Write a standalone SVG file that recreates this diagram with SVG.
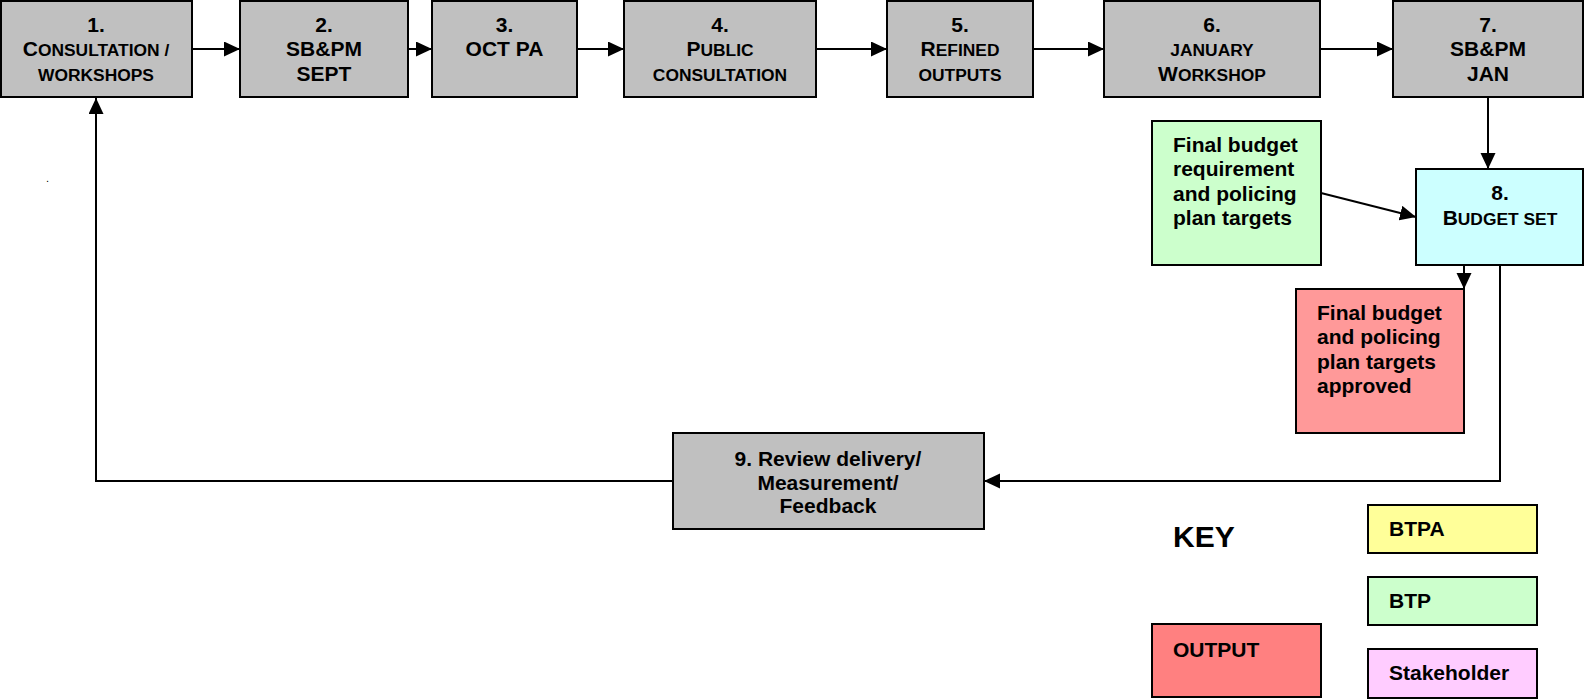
<svg xmlns="http://www.w3.org/2000/svg" width="1584" height="699" viewBox="0 0 1584 699">
<style>
.box{stroke:#000;stroke-width:2}
.gray{fill:#C0C0C0}
.t{font-family:"Liberation Sans",Arial,sans-serif;font-weight:bold;font-size:21px;fill:#000}
.c{text-anchor:middle}
.sc{font-size:17.4px}
.con{fill:none;stroke:#000;stroke-width:2}
</style>
<defs>
<marker id="ah" markerUnits="userSpaceOnUse" markerWidth="18" markerHeight="16" refX="16" refY="7.5" orient="auto">
<path d="M0,0 L16,7.5 L0,15 z" fill="#000"/>
</marker>
</defs>
<rect width="1584" height="699" fill="#fff"/>
<g id="n1"><rect class="box gray" x="1" y="1" width="191" height="96"/>
<text class="t c" x="96" y="32">1.</text>
<text class="t c" x="96" y="56">C<tspan class="sc">ONSULTATION /</tspan></text>
<text class="t c sc" x="96" y="81">WORKSHOPS</text></g>
<g id="n2"><rect class="box gray" x="240" y="1" width="168" height="96"/>
<text class="t c" x="324" y="32">2.</text>
<text class="t c" x="324" y="56">SB&amp;PM</text>
<text class="t c" x="324" y="81">SEPT</text></g>
<g id="n3"><rect class="box gray" x="432" y="1" width="145" height="96"/>
<text class="t c" x="504.5" y="32">3.</text>
<text class="t c" x="504.5" y="56">OCT PA</text></g>
<g id="n4"><rect class="box gray" x="624" y="1" width="192" height="96"/>
<text class="t c" x="720" y="32">4.</text>
<text class="t c" x="720" y="56">P<tspan class="sc">UBLIC</tspan></text>
<text class="t c sc" x="720" y="81">CONSULTATION</text></g>
<g id="n5"><rect class="box gray" x="887" y="1" width="146" height="96"/>
<text class="t c" x="960" y="32">5.</text>
<text class="t c" x="960" y="56">R<tspan class="sc">EFINED</tspan></text>
<text class="t c sc" x="960" y="81">OUTPUTS</text></g>
<g id="n6"><rect class="box gray" x="1104" y="1" width="216" height="96"/>
<text class="t c" x="1212" y="32">6.</text>
<text class="t c sc" x="1212" y="56">JANUARY</text>
<text class="t c" x="1212" y="81">W<tspan class="sc">ORKSHOP</tspan></text></g>
<g id="n7"><rect class="box gray" x="1393" y="1" width="190" height="96"/>
<text class="t c" x="1488" y="32">7.</text>
<text class="t c" x="1488" y="56">SB&amp;PM</text>
<text class="t c" x="1488" y="81">JAN</text></g>
<g id="n8"><rect class="box" fill="#CCFFFF" x="1416" y="169" width="167" height="96"/>
<text class="t c" x="1500" y="200">8.</text>
<text class="t c" x="1500" y="225">B<tspan class="sc">UDGET SET</tspan></text></g>
<g id="input"><rect class="box" fill="#CCFFCC" x="1152" y="121" width="169" height="144"/>
<text class="t" x="1173" y="152">Final budget</text>
<text class="t" x="1173" y="176">requirement</text>
<text class="t" x="1173" y="201">and policing</text>
<text class="t" x="1173" y="225">plan targets</text></g>
<g id="output"><rect class="box" fill="#FF9999" x="1296" y="289" width="168" height="144"/>
<text class="t" x="1317" y="320">Final budget</text>
<text class="t" x="1317" y="344">and policing</text>
<text class="t" x="1317" y="369">plan targets</text>
<text class="t" x="1317" y="393">approved</text></g>
<g id="n9"><rect class="box gray" x="673" y="433" width="311" height="96"/>
<text class="t c" x="828" y="466">9. Review delivery/</text>
<text class="t c" x="828" y="490">Measurement/</text>
<text class="t c" x="828" y="513">Feedback</text></g>
<g id="key">
<text class="t" x="1173" y="547" style="font-size:30px">KEY</text>
<rect class="box" fill="#FFFF99" x="1368" y="505" width="169" height="48"/>
<text class="t" x="1389" y="536">BTPA</text>
<rect class="box" fill="#CCFFCC" x="1368" y="577" width="169" height="48"/>
<text class="t" x="1389" y="608">BTP</text>
<rect class="box" fill="#FFCCFF" x="1368" y="649" width="169" height="49"/>
<text class="t" x="1389" y="680">Stakeholder</text>
<rect class="box" fill="#FF8080" x="1152" y="624" width="169" height="73"/>
<text class="t" x="1173" y="657">OUTPUT</text>
</g>
<text class="t" x="46" y="182" style="font-size:11px;font-weight:normal">.</text>
<g id="connectors">
<path class="con" marker-end="url(#ah)" d="M192,49 H240"/>
<path class="con" marker-end="url(#ah)" d="M408,49 H432"/>
<path class="con" marker-end="url(#ah)" d="M577,49 H624"/>
<path class="con" marker-end="url(#ah)" d="M816,49 H887"/>
<path class="con" marker-end="url(#ah)" d="M1033,49 H1104"/>
<path class="con" marker-end="url(#ah)" d="M1320,49 H1393"/>
<path class="con" marker-end="url(#ah)" d="M1488,97 V169"/>
<path class="con" marker-end="url(#ah)" d="M1321,193 L1416,217"/>
<path class="con" marker-end="url(#ah)" d="M1464,265 V289"/>
<path class="con" marker-end="url(#ah)" d="M1500,265 V481 H984"/>
<path class="con" marker-end="url(#ah)" d="M673,481 H96 V98"/>
</g>
</svg>
